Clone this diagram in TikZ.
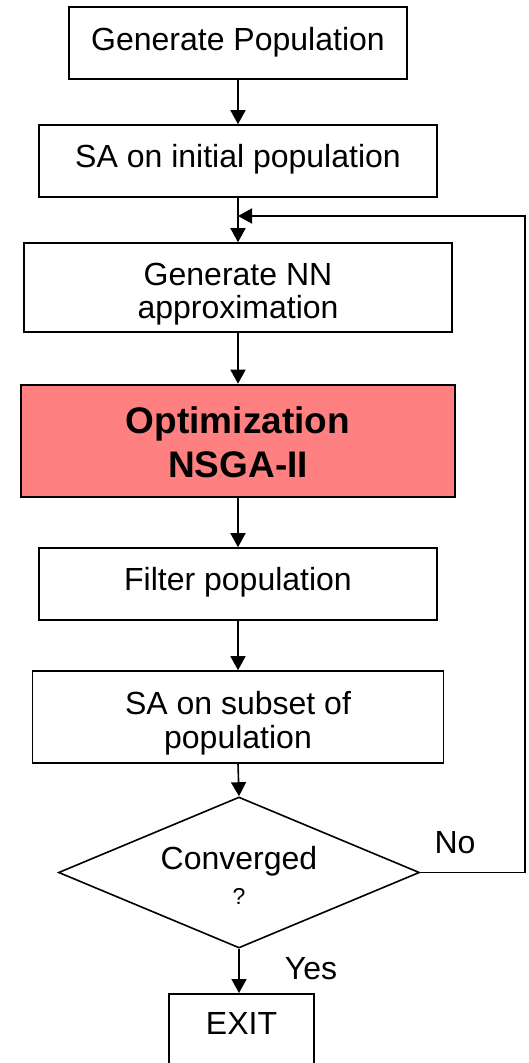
\documentclass[tikz,border=0pt]{standalone}
\usepackage{fontspec}
\setmainfont{Liberation Sans}
\usetikzlibrary{shapes.geometric,arrows.meta}
\definecolor{optred}{RGB}{255,128,128}
% lines of text: #1 = raise of first baseline above node centre, #2 = baseline skip, #3 = rows separated by \cr
\newcommand{\mlines}[3]{\raisebox{#1}[0pt][0pt]{\vtop{\baselineskip=#2\relax\lineskiplimit=-100pt\lineskip=0pt\halign{\hfil##\hfil\cr#3\crcr}}}}
\begin{document}
\begin{tikzpicture}[x=1pt,y=-1pt,
  txt/.style={font=\fontsize{32}{34}\selectfont},
  box/.style={draw, line width=1.6pt, rectangle, inner sep=0pt, txt},
  flow/.style={draw, line width=1.6pt, line join=miter, -{Triangle[length=14pt,width=15pt]}},
]
\useasboundingbox (0,0) rectangle (528,1063);
\clip (0,0) rectangle (528,1063);
\node[box, minimum width=338pt, minimum height=72pt] (b1) at (238,43)
  {\mlines{-7pt}{31pt}{Generate Population}};
\node[box, minimum width=398pt, minimum height=72pt] (b2) at (238,161)
  {\mlines{-6pt}{31pt}{SA on initial population}};
\node[box, minimum width=428pt, minimum height=89pt] (b3) at (238,287.5)
  {\mlines{2.5pt}{33pt}{Generate NN\cr approximation}};
\node[box, fill=optred, line width=2.6pt, minimum width=434pt, minimum height=112pt,
      font=\bfseries\fontsize{37}{43}\selectfont] (b4) at (238,441)
  {\mlines{8pt}{44pt}{Optimization\cr NSGA-II}};
\node[box, minimum width=398pt, minimum height=72pt] (b5) at (238,584)
  {\mlines{-6pt}{31pt}{Filter population}};
\node[box, minimum width=411pt, minimum height=92pt] (b6) at (238,717)
  {\mlines{2.5pt}{34pt}{SA on subset of\cr population}};
\node[box, diamond, aspect=2.39, minimum width=361pt, minimum height=151pt] (dec) at (239,872.5)
  {\mlines{3.5pt}{35pt}{Converged\cr {\fontsize{23}{23}\selectfont ?}}};
\node[box, minimum width=145pt, minimum height=78pt, anchor=north] (exit) at (241.5,993)
  {\mlines{-2pt}{31pt}{EXIT}};
\node[txt] (no) at (455,843) {No};
\node[txt] (yes) at (311,969) {Yes};
\coordinate (fbc) at (525,216);
\coordinate (merge) at (238,216);
\draw[flow] (b1.south) -- (b2.north);
\draw[flow] (b2.south) -- (b3.north);
\draw[flow] (b3.south) -- (b4.north);
\draw[flow] (b4.south) -- (b5.north);
\draw[flow] (b5.south) -- (b6.north);
\draw[flow] (b6.south) -- (dec.north);
\draw[flow] (dec.south) -- (dec.south |- exit.north);
\draw[flow] (dec.east) -| (fbc) -- (merge);
\end{tikzpicture}
\end{document}
